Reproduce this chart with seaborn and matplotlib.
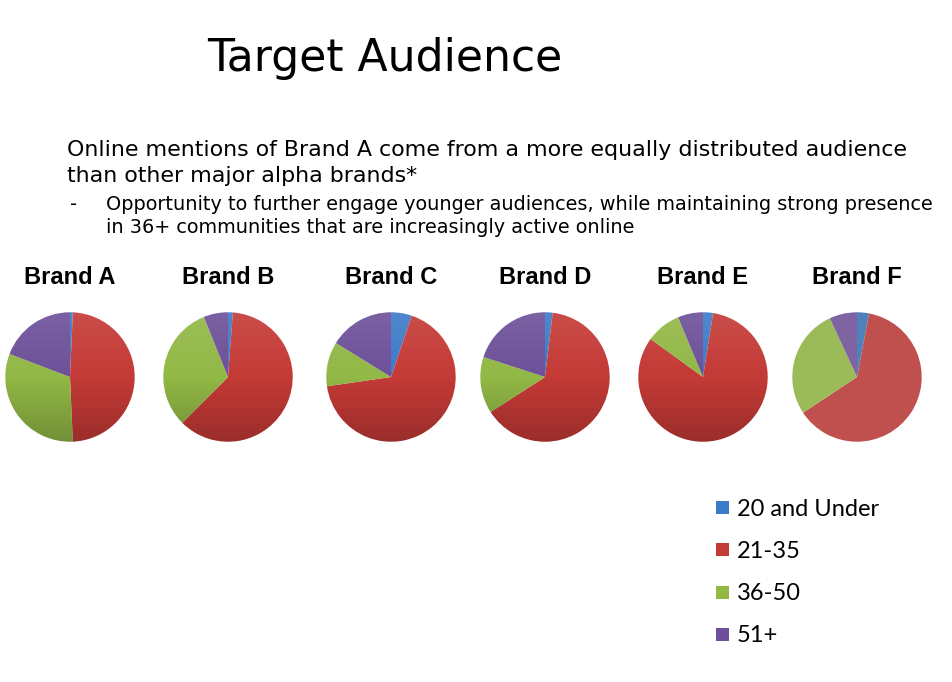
import matplotlib
matplotlib.use("Agg")
import matplotlib.pyplot as plt
import matplotlib.patches as mpatches
import numpy as np
import seaborn as sns

sns.set_theme(style="white")
plt.rcParams['font.family'] = ['DejaVu Sans']

brands = ["Brand A", "Brand B", "Brand C", "Brand D", "Brand E", "Brand F"]
age_groups = ["20 and Under", "21-35", "36-50", "51+"]
under_20 = [0.7, 1.2, 5.2, 1.9, 2.5, 3.0]
age_21_35 = [48.6, 61.3, 67.5, 64.0, 82.4, 62.7]
age_36_50 = [31.5, 31.4, 11.1, 14.1, 8.7, 27.4]
age_51_plus = [19.2, 6.1, 16.2, 20.0, 6.3, 6.9]

colors = ["#3c7bc8", "#c43a36", "#92b846", "#6d5099"]
colors_f = ["#4f81bd", "#c0504d", "#9bbb59", "#8064a2"]

W, H = 953, 682
fig = plt.figure(figsize=(W / 100, H / 100), dpi=100)
fig.patch.set_facecolor("white")

centers_x = [70, 228, 391, 545, 703, 857]
cy = 377
r = 66

# vertical shading overlay (light top -> dark bottom)
t = np.linspace(0, 1, 200)[:, None]
shade = np.zeros((200, 1, 4))
shade[:, :, :3] = np.where(t < 0.5, 1.0, 0.0)[:, :, None]
shade[:, :, 3] = np.where(t < 0.5, 0.10 * (0.5 - t) * 2, 0.22 * (t - 0.5) * 2)

for i, b in enumerate(brands):
    cx = centers_x[i]
    ax = fig.add_axes([(cx - r) / W, (H - cy - r) / H, 2 * r / W, 2 * r / H])
    vals = [under_20[i], age_21_35[i], age_36_50[i], age_51_plus[i]]
    flat = i == len(brands) - 1
    cols = colors_f if flat else colors
    ax.pie(vals, colors=cols, startangle=90, counterclock=False, radius=1,
           wedgeprops=dict(linewidth=0))
    if not flat:
        circ = mpatches.Circle((0, 0), 1, transform=ax.transData, facecolor="none",
                               edgecolor="none")
        ax.add_patch(circ)
        im = ax.imshow(shade, extent=[-1, 1, -1, 1], aspect="auto", zorder=5,
                       interpolation="bilinear")
        im.set_clip_path(circ)
    ax.set_xlim(-1.02, 1.02)
    ax.set_ylim(-1.02, 1.02)
    ax.set_aspect("equal")
    ax.axis("off")
    fig.text(cx / W, 1 - 277 / H, b, ha="center", va="center",
             fontsize=17, fontweight="bold", family=["Liberation Sans"], color="black")

fig.text(385 / W, 1 - 58 / H, "Target Audience", ha="center", va="center",
         fontsize=31.8, color="black")

fig.text(67 / W, 1 - 150 / H,
         "Online mentions of Brand A come from a more equally distributed audience",
         ha="left", va="center", fontsize=15.95, color="black")
fig.text(67 / W, 1 - 176 / H, "than other major alpha brands*",
         ha="left", va="center", fontsize=15.95, color="black")
fig.text(70 / W, 1 - 205 / H, "-", ha="left", va="center", fontsize=13.9, color="black")
fig.text(106 / W, 1 - 205 / H,
         "Opportunity to further engage younger audiences, while maintaining strong presence",
         ha="left", va="center", fontsize=13.9, color="black")
fig.text(106 / W, 1 - 228 / H, "in 36+ communities that are increasingly active online",
         ha="left", va="center", fontsize=13.9, color="black")

# legend
leg_y = [507, 549, 592, 634]
for c, lab, y in zip(colors, age_groups, leg_y):
    fig.patches.append(mpatches.Rectangle((716 / W, (H - y - 6.5) / H), 13 / W, 13 / H,
                                          transform=fig.transFigure, facecolor=c,
                                          edgecolor="none"))
    fig.text(737 / W, 1 - (y + 2) / H, lab, ha="left", va="center", fontsize=17,
             family=["Lato"], color="black")

fig.savefig("out.png", dpi=100, facecolor="white")
